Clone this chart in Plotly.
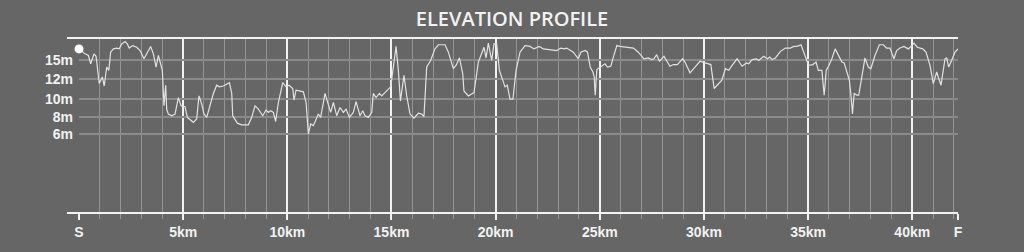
import plotly.graph_objects as go

# distance along the course (km)
km = [0.00, 0.29, 0.45, 0.56, 0.72, 0.82, 0.97, 1.12, 1.21, 1.33, 1.43, 1.52, 1.65, 1.81, 1.93,
      2.05, 2.21, 2.32, 2.41, 2.58, 2.77, 2.93, 3.12, 3.28, 3.44, 3.57, 3.70, 3.81, 3.92, 4.00,
      4.08, 4.16, 4.21, 4.29, 4.45, 4.61, 4.77, 4.90, 5.09, 5.20, 5.49, 5.65, 5.76, 5.89, 6.00,
      6.13, 6.33, 6.45, 6.61, 6.74, 6.93, 7.22, 7.33, 7.38, 7.60, 7.81, 8.13, 8.29, 8.45, 8.61,
      8.82, 8.98, 9.09, 9.20, 9.33, 9.44, 9.57, 9.78, 9.94, 10.08, 10.26, 10.32, 10.42, 10.77, 10.90,
      11.01, 11.12, 11.25, 11.49, 11.60, 11.81, 11.97, 12.08, 12.21, 12.37, 12.53, 12.69, 12.82, 12.98,
      13.17, 13.30, 13.49, 13.62, 13.73, 13.89, 14.05, 14.13, 14.26, 14.42, 14.53, 14.77, 14.96, 15.09,
      15.22, 15.33, 15.43, 15.60, 15.73, 15.89, 16.08, 16.29, 16.45, 16.56, 16.69, 16.88, 17.09, 17.25,
      17.57, 17.73, 17.97, 18.10, 18.26, 18.42, 18.48, 18.69, 18.96, 19.17, 19.33, 19.44, 19.54, 19.65,
      19.81, 19.92, 20.05, 20.18, 20.45, 20.56, 20.69, 20.83, 20.98, 21.17, 21.41, 21.65, 21.84, 22.10,
      22.29, 22.61, 22.93, 23.13, 23.29, 23.41, 23.73, 23.97, 24.09, 24.30, 24.41, 24.54, 24.67, 24.73,
      24.78, 24.86, 25.01, 25.25, 25.36, 25.53, 25.65, 25.82, 25.97, 26.29, 26.61, 26.85, 27.12, 27.33,
      27.49, 27.60, 27.73, 27.86, 28.08, 28.37, 28.53, 28.72, 28.98, 29.09, 29.33, 29.57, 29.81, 30.05,
      30.21, 30.33, 30.49, 30.70, 30.86, 31.03, 31.19, 31.35, 31.59, 31.83, 32.04, 32.15, 32.31, 32.52,
      32.63, 32.87, 33.04, 33.16, 33.27, 33.43, 33.67, 33.91, 34.15, 34.31, 34.47, 34.66, 34.78, 34.91,
      35.02, 35.23, 35.38, 35.49, 35.66, 35.77, 35.87, 35.98, 36.14, 36.30, 36.46, 36.62, 36.73, 36.89,
      36.98, 37.05, 37.13, 37.21, 37.34, 37.43, 37.58, 37.73, 37.89, 38.01, 38.21, 38.42, 38.61, 38.77,
      38.93, 39.12, 39.25, 39.41, 39.60, 39.81, 39.94, 40.08, 40.24, 40.50, 40.66, 40.85, 41.01, 41.17,
      41.38, 41.57, 41.65, 41.75, 41.89, 42.05, 42.195]

# elevation (m)
elevation = [16.3, 15.7, 15.5, 14.5, 15.7, 15.4, 12.1, 12.9, 11.8, 14.1, 13.7, 15.9, 16.3, 16.4, 16.3,
             16.9, 17.2, 16.9, 16.4, 16.7, 16.5, 16.1, 15.1, 15.9, 16.6, 15.7, 14.1, 15.5, 14.5, 13.7,
             9.4, 11.9, 9.0, 8.4, 8.2, 8.4, 10.4, 9.4, 9.3, 8.0, 7.4, 7.8, 10.6, 9.6, 8.4,
             8.0, 9.8, 10.9, 11.9, 11.7, 11.8, 12.2, 10.9, 8.2, 7.3, 7.1, 7.1, 8.0, 9.4, 9.0,
             8.2, 8.9, 8.6, 8.8, 8.6, 7.5, 9.8, 12.2, 11.7, 11.9, 11.5, 10.1, 11.3, 11.1, 9.8,
             6.0, 7.2, 7.0, 8.4, 8.0, 10.9, 9.6, 8.6, 9.8, 8.2, 9.2, 8.6, 9.0, 8.0,
             8.6, 9.9, 8.2, 8.8, 8.2, 8.0, 8.6, 10.9, 10.4, 10.9, 10.6, 11.2, 11.7, 14.1,
             16.6, 13.7, 10.0, 13.1, 10.6, 8.4, 7.9, 8.5, 8.4, 8.1, 14.1, 14.9, 16.3, 16.8,
             16.8, 15.9, 13.9, 14.3, 15.2, 13.3, 11.2, 10.6, 11.0, 14.7, 15.9, 16.5, 15.2, 17.0,
             14.9, 16.9, 16.9, 13.7, 11.7, 11.9, 10.2, 10.2, 13.7, 15.9, 16.7, 16.6, 16.3, 16.6,
             16.3, 16.2, 16.1, 16.4, 16.3, 16.4, 15.9, 15.1, 15.9, 16.1, 15.9, 14.1, 13.5, 12.9,
             10.7, 13.8, 14.1, 14.5, 14.1, 14.2, 15.3, 16.7, 16.6, 16.5, 16.4, 15.9, 15.1, 15.2,
             15.0, 15.1, 15.6, 14.8, 15.4, 14.2, 14.4, 14.4, 15.1, 14.7, 13.4, 14.1, 14.8, 14.6,
             14.5, 14.4, 11.5, 12.1, 12.5, 13.9, 13.7, 14.3, 15.1, 14.2, 14.6, 14.5, 15.0, 15.1,
             14.9, 15.4, 15.1, 15.3, 15.0, 15.2, 16.0, 16.4, 16.4, 16.6, 16.6, 16.8, 15.9, 15.1,
             14.3, 14.4, 14.7, 13.7, 13.7, 10.7, 13.7, 14.2, 15.1, 16.3, 15.5, 14.7, 14.6, 13.3,
             12.5, 10.9, 8.4, 10.9, 10.7, 10.7, 13.1, 15.2, 14.1, 13.9, 15.5, 16.8, 16.8, 16.4,
             16.4, 15.1, 16.1, 16.4, 16.6, 16.3, 16.6, 17.0, 16.5, 16.3, 15.9, 14.3, 12.1, 13.5,
             11.9, 15.1, 15.2, 14.1, 14.9, 15.9, 16.3]

# x-axis labels
x_tickvals = [0, 5, 10, 15, 20, 25, 30, 35, 40, 42.195]
x_ticktext = ["S", "5km", "10km", "15km", "20km", "25km", "30km", "35km", "40km", "F"]
x_minor = list(range(0, 43))

# y-axis labels
y_tickvals = [6, 8, 10.2, 12.6, 15]
y_ticktext = ["6m", "8m", "10m", "12m", "15m"]

BG = "#666666"
WHITE = "#f2f2f2"

fig = go.Figure()
fig.add_trace(go.Scatter(x=km, y=elevation, mode="lines",
                         line=dict(color="#e2e2e2", width=1.2),
                         hoverinfo="skip", showlegend=False))
fig.add_trace(go.Scatter(x=[km[0]], y=[elevation[0]], mode="markers",
                         marker=dict(color="#ffffff", size=9, line=dict(width=0)),
                         cliponaxis=False, hoverinfo="skip", showlegend=False))

tick_font = dict(family="Liberation Sans, Arial, sans-serif", size=14, color=WHITE, weight="bold")

fig.update_layout(
    width=1024, height=252,
    paper_bgcolor=BG, plot_bgcolor=BG,
    margin=dict(l=79, r=66, t=38, b=36),
    title=dict(text="ELEVATION PROFILE", x=0.5, xanchor="center", y=0.925, yanchor="middle",
               yref="container",
               font=dict(family="Open Sans, Lato, sans-serif", size=20, color=WHITE, weight=600)),
    xaxis=dict(range=[0, 42.195], tickmode="array", tickvals=x_tickvals, ticktext=x_ticktext,
               showgrid=True, gridcolor=WHITE, gridwidth=2,
               ticks="outside", ticklen=6, tickwidth=2, tickcolor=WHITE,
               tickfont=tick_font, zeroline=False, showline=False,
               minor=dict(tickmode="array", tickvals=x_minor, showgrid=True,
                          gridcolor="#959595", gridwidth=1,
                          ticks="outside", ticklen=5, tickwidth=1, tickcolor="#959595")),
    yaxis=dict(range=[-3.59, 17.62], tickmode="array", tickvals=y_tickvals, ticktext=y_ticktext,
               showgrid=True, gridcolor="#8a8a8a", gridwidth=1.5,
               ticks="", tickfont=tick_font, zeroline=False, showline=False,
               ticklabelstandoff=5),
    shapes=[
        dict(type="line", xref="paper", yref="paper", x0=-12 / 879, x1=1, y0=1, y1=1,
             line=dict(color=WHITE, width=2)),
        dict(type="line", xref="paper", yref="paper", x0=-12 / 879, x1=1, y0=0, y1=0,
             line=dict(color=WHITE, width=2)),
    ],
)

fig.write_html("out.html")
